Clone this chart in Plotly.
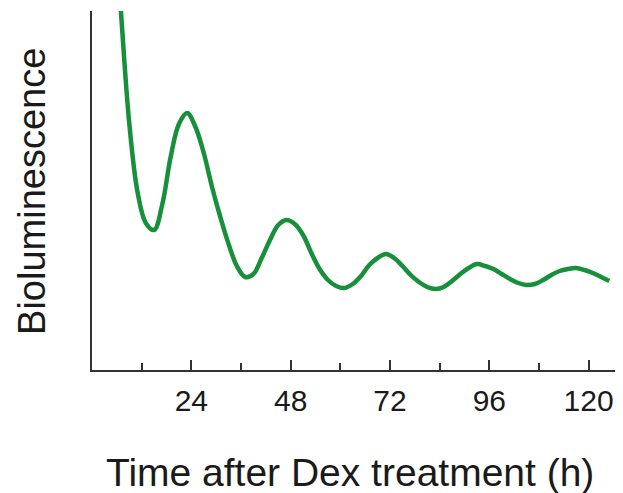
import plotly.graph_objects as go

# Time after Dex treatment (h)
time_h = [5, 7, 9, 11, 13, 15, 17, 19, 21, 23, 25, 27, 29, 31, 33, 35, 37, 39,
          41, 43, 45, 47, 49, 51, 53, 55, 57, 59, 61, 63, 65, 67, 69, 71, 73,
          75, 77, 79, 81, 83, 85, 87, 89, 91, 93, 95, 97, 99, 101, 103, 105,
          107, 109, 111, 113, 115, 117, 119, 121, 123, 125]
# Bioluminescence (arbitrary units)
biolum = [480, 358, 247, 178, 147, 140, 166, 213, 246, 257, 243, 217, 183, 153,
          126, 104, 93, 96, 112, 130, 145, 150, 146, 135, 117, 101, 90, 84, 82,
          86, 94, 105, 112, 116, 112, 104, 95, 88, 83, 81, 83, 89, 96, 102, 106,
          104, 101, 96, 91, 87, 85, 86, 90, 95, 99, 101, 102, 100, 97, 93, 89]

major_ticks = [24, 48, 72, 96, 120]
tick_labels = ["24", "48", "72", "96", "120"]

x_title = "Time after Dex treatment (h)"
y_title = "Bioluminescence"

fig = go.Figure()
fig.add_trace(go.Scatter(
    x=time_h, y=biolum, mode="lines",
    line=dict(color="#16903a", width=4.5, shape="spline", smoothing=1.0),
    hoverinfo="skip",
))

font_family = "Liberation Sans, Arial, Helvetica, sans-serif"
text_color = "#1a1a1a"

fig.update_layout(
    width=615, height=485,
    margin=dict(l=84, r=0, t=3, b=123),
    paper_bgcolor="white", plot_bgcolor="white",
    showlegend=False,
    font=dict(family=font_family, color=text_color),
    xaxis=dict(
        range=[0, 128.3],
        showgrid=False, zeroline=False,
        showline=True, linecolor="#333333", linewidth=2,
        tickmode="array", tickvals=major_ticks, ticktext=tick_labels,
        ticks="inside", ticklen=10, tickwidth=2, tickcolor="#333333",
        ticklabelstandoff=3,
        tickfont=dict(size=30, family=font_family, color=text_color),
        minor=dict(tickmode="linear", tick0=12, dtick=24, ticks="inside",
                   ticklen=7, tickwidth=2, tickcolor="#333333", showgrid=False),
    ),
    yaxis=dict(
        range=[0, 359],
        showgrid=False, zeroline=False,
        showline=True, linecolor="#333333", linewidth=2,
        showticklabels=False, ticks="",
    ),
    annotations=[
        dict(text=x_title, xref="paper", yref="paper", x=0.486, y=-0.2855,
             xanchor="center", yanchor="middle", showarrow=False,
             font=dict(size=39, family=font_family, color=text_color)),
        dict(text=y_title, xref="paper", yref="paper", x=0, y=0.496,
             xshift=-60, xanchor="center", yanchor="middle", textangle=-90,
             showarrow=False,
             font=dict(size=38, family=font_family, color=text_color)),
    ],
)

fig.write_html("out.html")
